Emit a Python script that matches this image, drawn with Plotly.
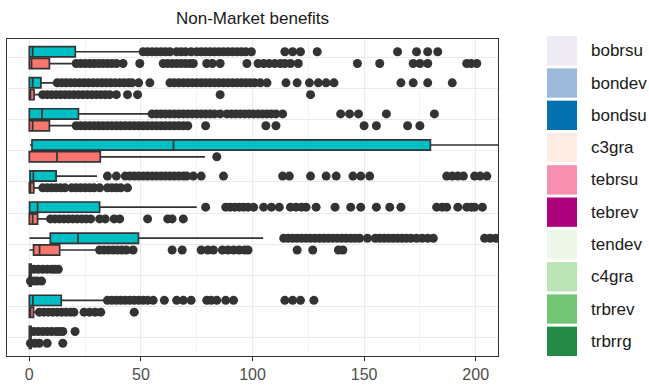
import plotly.graph_objects as go

# ---------------- data ----------------
groups = ["bobrsu", "bondev", "bondsu", "c3gra", "tebrsu",
          "tebrev", "tendev", "c4gra", "trbrev", "trbrrg"]

legend_names = ["bobrsu", "bondev", "bondsu", "c3gra", "tebrsu",
                "tebrev", "tendev", "c4gra", "trbrev", "trbrrg"]
legend_colors = ["#eeebf4", "#9cb9d9", "#0570b0", "#feebe2", "#f88fb1",
                 "#ae017e", "#edf8e9", "#bae4b3", "#74c476", "#238b45"]

# upper (cyan) boxes
cy_q1 = [0, 0, 0, 1.2, 0.3, 0.1, 9.4, 0, 0, 0]
cy_med = [1.5, 1.5, 5.7, 64.6, 1.8, 3.7, 21.8, 0, 1.6, 0]
cy_q3 = [20.6, 5.2, 22, 179.7, 12, 31.5, 48.9, 0.8, 14.3, 0.8]
cy_lo = [0, 0, 0, 0.3, 0, 0, 0.1, 0, 0, 0]
cy_hi = [50.4, 11.6, 54, 260, 30.3, 75, 104.8, 1, 34.8, 1]
cy_out = [
    [51, 53, 55, 57, 59, 61, 63, 66, 68, 70, 72.5, 75, 77, 79, 81, 83, 85, 87, 89, 91, 93, 95, 97,
     99.5, 114.5, 118, 121.5, 129, 165, 173.5, 178.5, 183],
    [12.5, 14.5, 16.5, 18.5, 20.5, 22.5, 24.5, 26.5, 28.5, 30.5, 32.5, 34.5, 36.5, 38.5, 40.5, 42.5,
     44.5, 46, 49, 54, 63, 65, 67, 69, 71, 73, 75, 77, 79, 81, 83, 85, 87, 89, 91, 93, 95, 97, 99,
     101, 103.5, 106.5, 115, 120, 125.5, 129.5, 133, 136.5, 166.5, 172, 178.5, 189.5],
    [55, 57, 59, 61, 63, 65, 67, 69, 71, 73, 75, 77, 79, 81, 83, 85.5, 88.5, 90.5, 92.5, 94.5, 96.5,
     98.5, 100.5, 102.5, 104.5, 106.5, 108.5, 110.5, 113.5, 139.5, 143.5, 147.5, 160, 181.5],
    [],
    [35, 39, 43, 45, 47, 49, 51, 53, 55, 57, 59, 61, 63, 65, 67, 69, 70.5, 73.5, 77, 87, 113.5,
     116.5, 126, 133, 137.5, 145, 148.5, 152.5, 187, 189.5, 192, 194.5, 199.5, 202, 205],
    [79, 88, 90, 92, 94, 96, 98, 100.5, 105, 108.5, 112, 117, 119.5, 122, 124, 128.5, 137, 144,
     148.5, 155.5, 161.5, 166.5, 182.5, 185, 187, 192, 196, 198, 199.5, 203],
    [114, 116, 118, 120, 122, 124, 126, 128, 130, 132, 134, 136, 138, 140, 142, 144, 146, 148,
     151.5, 155, 157, 159, 161, 163, 165, 167, 169, 171, 173.5, 176, 178.5, 181, 204, 206.5, 209],
    [2, 4, 6, 8, 10, 11.5, 13],
    [35, 37, 39, 41, 43, 45, 47, 49, 51, 53, 55.5, 60.5, 66, 69, 72.5, 79.5, 81.5, 84, 88, 91.5,
     114.5, 118, 121.5, 127.5],
    [2, 4, 6, 8, 10, 12, 13.5, 15, 20.5],
]

# lower (salmon) boxes
sa_q1 = [0, 0, 0, 0, 0, 0, 1.9, 0, 0, 0]
sa_med = [1, 0.5, 1.5, 12.4, 0.5, 1.5, 4.6, 0, 0.5, 0]
sa_q3 = [9, 2.1, 9, 31.8, 2, 3.7, 13.6, 0.8, 1.9, 0.8]
sa_lo = [0, 0, 0, 0, 0, 0, 0.1, 0, 0, 0]
sa_hi = [21, 5.7, 21, 78.7, 5.7, 9.4, 31, 0.8, 2.7, 0.8]
sa_out = [
    [21, 23, 25, 27, 29, 31, 33, 35, 37, 39, 42, 49.5, 60, 62, 64, 66, 68, 70, 72, 73.5, 79.5, 82,
     85.5, 97.5, 102.5, 105, 107.5, 110, 112.5, 114.5, 117, 120.5, 147, 157, 172, 175, 178.5, 196,
     198, 200.5],
    [6, 8, 10, 12, 14, 16, 18, 20, 22, 24, 26, 28, 30, 32, 34, 36, 39, 44, 48.5, 85.5, 126],
    [21, 23, 25, 27, 29, 31, 33, 35, 37, 39, 41, 43, 45, 47, 49, 51, 53, 55, 57, 59, 61, 63, 65, 67,
     69, 71, 79, 106, 110.5, 150, 155.5, 169.5, 175],
    [84],
    [6, 8, 10, 12, 14, 16, 19, 21, 23, 25, 27, 29, 31.5, 35, 37, 39, 41, 44],
    [9.5, 11.5, 13.5, 15.5, 17.5, 19.5, 21.5, 23.5, 25.5, 27.5, 31.5, 34, 38, 40.5, 53, 62, 64, 69],
    [31.5, 33.5, 35.5, 37.5, 39.5, 41.5, 43.5, 46.5, 64, 68.5, 77, 80, 82.5, 86.5, 89, 91.5, 94,
     96.5, 98, 120, 127, 138.5, 140.5],
    [0.5, 2, 3.5, 5.5],
    [4.5, 6.5, 8.5, 10.5, 12.5, 14.5, 16.5, 18.5, 20, 24.5, 27, 29.5, 32, 47],
    [0.5, 2.5, 4.5, 8, 15],
]

x_ticks = [0, 50, 100, 150, 200]
title_text = "Non-Market benefits"

# ---------------- layout helpers ----------------
W, H = 649, 390
ML, MR, MT, MB = 7, 151, 39, 27
PW, PH = W - ML - MR, H - MT - MB
n = len(groups)
centers = [n - i for i in range(n)]  # top group at highest position
DODGE = 0.19
BOXW = 0.33

CYAN = "#00BFC4"
SALMON = "#F8766D"
DARK = "#333333"

fig = go.Figure()

def add_boxes(q1, med, q3, lo, hi, pos, fill):
    fig.add_trace(go.Box(
        y=pos, q1=q1, median=med, q3=q3, lowerfence=lo, upperfence=hi,
        orientation="h", boxpoints=False, width=BOXW, whiskerwidth=0,
        fillcolor=fill, line=dict(color=DARK, width=1.7), showlegend=False,
        hoverinfo="skip"))

def add_outliers(out, pos):
    xs, ys = [], []
    for vals, p in zip(out, pos):
        xs += vals
        ys += [p] * len(vals)
    fig.add_trace(go.Scatter(
        x=xs, y=ys, mode="markers", showlegend=False, hoverinfo="skip",
        marker=dict(size=9, color=DARK, line=dict(width=0))))

pos_c = [c + DODGE for c in centers]
pos_s = [c - DODGE for c in centers]
add_outliers(sa_out, pos_s)
add_outliers(cy_out, pos_c)
add_boxes(sa_q1, sa_med, sa_q3, sa_lo, sa_hi, pos_s, SALMON)
add_boxes(cy_q1, cy_med, cy_q3, cy_lo, cy_hi, pos_c, CYAN)

# legend drawn as swatches + labels
shapes, annots = [], []
sw_x0, sw_x1 = 547, 577
top0, step, sh = 36, 33, 30
def px2x(px):
    return (px - ML) / PW
def py2y(py):
    return (H - MB - py) / PH
for i, (nm, col) in enumerate(zip(legend_names, legend_colors)):
    y0 = top0 + i * step
    shapes.append(dict(type="rect", xref="paper", yref="paper",
                       x0=px2x(sw_x0), x1=px2x(sw_x1), y0=py2y(y0 + sh), y1=py2y(y0),
                       fillcolor=col, line=dict(width=0), layer="above"))
    annots.append(dict(xref="paper", yref="paper", x=px2x(589), y=py2y(y0 + sh / 2),
                       text=nm, showarrow=False, xanchor="left", yanchor="middle",
                       font=dict(size=17, color="#1a1a1a")))

annots.append(dict(xref="paper", yref="paper", x=0.5, y=py2y(18), text=title_text,
                   showarrow=False, xanchor="center", yanchor="middle",
                   font=dict(size=17, color="#1a1a1a")))

fig.update_layout(
    width=W, height=H, margin=dict(l=ML, r=MR, t=MT, b=MB),
    paper_bgcolor="white", plot_bgcolor="white",
    font=dict(family="Liberation Sans, Arial, sans-serif"),
    shapes=shapes, annotations=annots, showlegend=False,
    xaxis=dict(range=[-10, 210], tickvals=x_ticks, ticktext=[str(v) for v in x_ticks],
               showgrid=True, gridcolor="#EBEBEB", gridwidth=1.3, zeroline=False,
               ticks="outside", ticklen=4, tickcolor=DARK, tickwidth=1,
               tickfont=dict(size=16, color="#4d4d4d"),
               minor=dict(dtick=25, tick0=0, showgrid=True, gridcolor="#F2F2F2", gridwidth=0.8),
               showline=True, mirror=True, linecolor=DARK, linewidth=1),
    yaxis=dict(range=[0.4, n + 0.6], tickvals=centers, showticklabels=False,
               showgrid=True, gridcolor="#EBEBEB", gridwidth=1.3, zeroline=False,
               ticks="", showline=True, mirror=True, linecolor=DARK, linewidth=1),
)

fig.write_html("out.html")
